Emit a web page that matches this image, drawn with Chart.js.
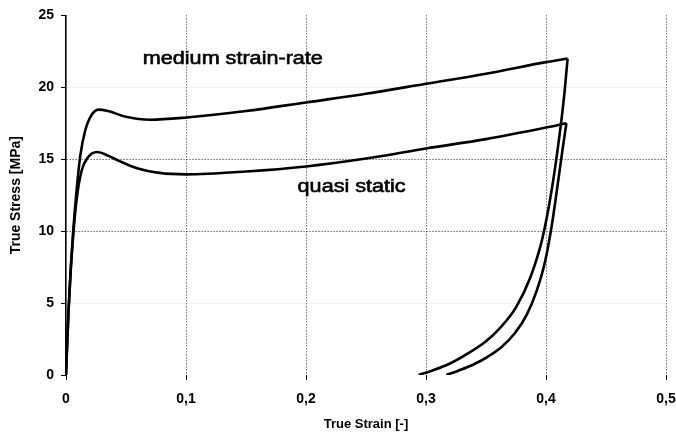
<!DOCTYPE html>
<html>
<head>
<meta charset="utf-8">
<script src="https://cdn.jsdelivr.net/npm/chart.js@4/dist/chart.umd.min.js"></script>
<style>
  html, body { margin: 0; padding: 0; background: #fff; }
  #wrap { width: 676px; height: 441px; }
</style>
</head>
<body>
<div id="wrap"><canvas id="c" width="676" height="441"></canvas></div>
<script>
// ---- data ----
const mediumLoadX = [0, 0.002, 0.004, 0.006, 0.009, 0.012, 0.016, 0.020, 0.027, 0.035, 0.050, 0.070, 0.100, 0.150, 0.200, 0.250, 0.300, 0.350, 0.400, 0.418];
const mediumLoadY = [0, 4.3, 7.5, 10.0, 13.0, 15.3, 17.0, 17.9, 18.45, 18.35, 17.95, 17.75, 17.9, 18.35, 18.95, 19.55, 20.25, 20.95, 21.75, 22.0];
const mediumUnloadX = [0.294, 0.305, 0.320, 0.335, 0.350, 0.362, 0.375, 0.387, 0.397, 0.405, 0.411, 0.415, 0.418];
const mediumUnloadY = [0, 0.3, 0.8, 1.5, 2.35, 3.3, 4.7, 6.8, 9.5, 13.0, 16.5, 19.3, 22.0];
const quasiLoadX = [0, 0.002, 0.004, 0.006, 0.009, 0.013, 0.018, 0.026, 0.035, 0.045, 0.060, 0.078, 0.100, 0.150, 0.200, 0.250, 0.300, 0.350, 0.400, 0.417];
const quasiLoadY = [0, 4.2, 7.3, 9.7, 12.3, 14.2, 15.1, 15.5, 15.25, 14.85, 14.35, 14.05, 13.95, 14.15, 14.5, 15.05, 15.75, 16.4, 17.2, 17.5];
const quasiUnloadX = [0.317, 0.327, 0.340, 0.352, 0.363, 0.374, 0.384, 0.392, 0.399, 0.405, 0.410, 0.414, 0.417];
const quasiUnloadY = [0, 0.3, 0.75, 1.3, 1.95, 2.9, 4.2, 5.8, 7.8, 10.5, 13.4, 15.8, 17.5];

const xTickValues = [0, 0.1, 0.2, 0.3, 0.4, 0.5];
const xTickLabels = ['0', '0,1', '0,2', '0,3', '0,4', '0,5'];
const yTickValues = [0, 5, 10, 15, 20, 25];
const yTickLabels = ['0', '5', '10', '15', '20', '25'];

const labelTexts = ['medium strain-rate', 'quasi static'];
const labelAnchorX = [0.064, 0.193];
const labelAnchorY = [21.6, 12.7];

const xTitle = 'True Strain [-]';
const yTitle = 'True Stress [MPa]';

// ---- build ----
const pts = (xs, ys) => xs.map((x, i) => ({ x: x, y: ys[i] }));
const lineStyle = {
  showLine: true, borderColor: '#000', backgroundColor: '#000',
  borderWidth: 2.6, pointRadius: 0, cubicInterpolationMode: 'monotone', fill: false
};

const annotationPlugin = {
  id: 'curveLabels',
  afterDatasetsDraw(chart) {
    const ctx = chart.ctx;
    const xs = chart.scales.x, ys = chart.scales.y;
    ctx.save();
    ctx.font = '18px "Liberation Sans", Arial, sans-serif';
    ctx.fillStyle = '#000';
    ctx.strokeStyle = '#000';
    ctx.lineWidth = 0.6;
    ctx.textBaseline = 'alphabetic';
    labelTexts.forEach((t, i) => {
      const px = xs.getPixelForValue(labelAnchorX[i]);
      const py = ys.getPixelForValue(labelAnchorY[i]);
      ctx.save();
      ctx.translate(px, py);
      ctx.scale(1.2, 1);
      ctx.fillText(t, 0, 0);
      ctx.strokeText(t, 0, 0);
      ctx.restore();
    });
    ctx.restore();
  }
};

const gridDark = '#2a2a2a';

new Chart(document.getElementById('c'), {
  type: 'scatter',
  data: {
    datasets: [
      Object.assign({ data: pts(mediumLoadX, mediumLoadY) }, lineStyle),
      Object.assign({ data: pts(mediumUnloadX, mediumUnloadY) }, lineStyle),
      Object.assign({ data: pts(quasiLoadX, quasiLoadY) }, lineStyle),
      Object.assign({ data: pts(quasiUnloadX, quasiUnloadY) }, lineStyle)
    ]
  },
  options: {
    responsive: false,
    animation: false,
    events: [],
    layout: { padding: { top: 14, right: 10, left: 0, bottom: 0 } },
    plugins: { legend: { display: false }, tooltip: { enabled: false } },
    scales: {
      x: {
        type: 'linear', min: 0, max: 0.5,
        afterBuildTicks(scale) { scale.ticks = xTickValues.map(v => ({ value: v })); },
        afterFit(scale) { scale.paddingRight = 0; scale.paddingLeft = 0; scale.height = 66; },
        ticks: {
          callback: (v) => { const i = xTickValues.findIndex(t => Math.abs(t - v) < 1e-9); return i >= 0 ? xTickLabels[i] : ''; },
          color: '#000', padding: 11, maxRotation: 0,
          font: { family: '"Liberation Sans", Arial, sans-serif', size: 14, weight: 'bold' }
        },
        grid: {
          color: (c) => (c.tick && c.tick.value === 0) ? 'rgba(0,0,0,0)' : gridDark,
          lineWidth: 1, tickLength: 5, tickColor: '#000', tickWidth: 1
        },
        border: { display: false, dash: [1, 2] },
        title: {
          display: true, text: xTitle, color: '#000',
          font: { family: '"Liberation Sans", Arial, sans-serif', size: 13, weight: 'bold' },
          padding: { top: 0, bottom: 9 }
        }
      },
      y: {
        type: 'linear', min: 0, max: 25,
        afterBuildTicks(scale) { scale.ticks = yTickValues.map(v => ({ value: v })); },
        afterFit(scale) { scale.width = 66; },
        ticks: {
          callback: (v) => { const i = yTickValues.indexOf(v); return i >= 0 ? yTickLabels[i] : ''; },
          color: '#000', padding: 7,
          font: { family: '"Liberation Sans", Arial, sans-serif', size: 14, weight: 'bold' }
        },
        grid: {
          color: (c) => {
            const v = c.tick ? c.tick.value : -1;
            if (v === 10 || v === 15) return gridDark;
            if (v === 5 || v === 20) return 'rgba(0,0,0,0.18)';
            return 'rgba(0,0,0,0)';
          },
          lineWidth: 1, tickLength: 5, tickColor: '#000', tickWidth: 1
        },
        border: { display: true, color: '#000', width: 1.6, dash: [1, 2] },
        title: {
          display: true, text: yTitle, color: '#000',
          font: { family: '"Liberation Sans", Arial, sans-serif', size: 14, weight: 'bold' },
          padding: { top: 8, bottom: 0 }
        }
      }
    }
  },
  plugins: [annotationPlugin]
});
</script>
</body>
</html>
